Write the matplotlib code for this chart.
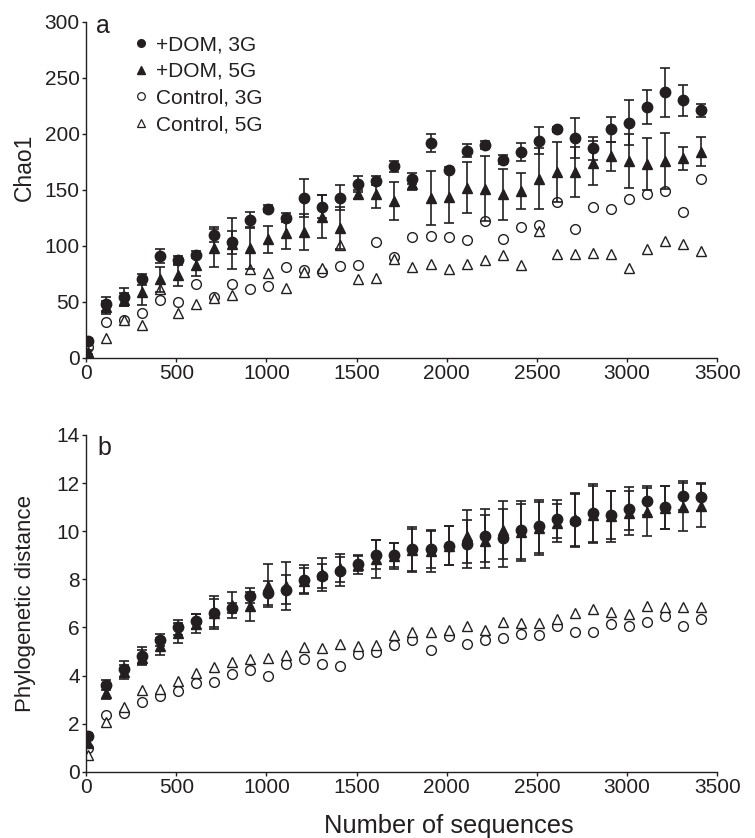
import matplotlib
matplotlib.use('Agg')
from matplotlib import pyplot as plt
from matplotlib.lines import Line2D

plt.rcParams['font.family'] = ['Liberation Sans', 'DejaVu Sans']

# sampling depth (number of sequences)
seqs = [10, 110, 210, 310, 410, 510, 610, 710, 810, 910, 1010, 1110, 1210, 1310,
        1410, 1510, 1610, 1710, 1810, 1910, 2010, 2110, 2210, 2310, 2410, 2510,
        2610, 2710, 2810, 2910, 3010, 3110, 3210, 3310, 3410]

# panel a: Chao1
chao_dom3 = [15, 48, 54, 70, 91, 87, 92, 110, 103, 123, 133, 125, 143, 135, 143, 155, 158, 171,
             160, 192, 168, 185, 190, 177, 184, 194, 204, 196, 187, 204, 210, 224, 237, 230, 221]
chao_dom3_err = [3, 6, 8, 5, 6, 4, 3, 7, 10, 7, 3, 4, 17, 10, 11, 7, 4, 5,
                 5, 8, 2, 6, 4, 4, 8, 12, 2, 18, 10, 11, 20, 15, 22, 14, 6]
chao_dom5 = [5, 45, 52, 59, 70, 74, 83, 98, 102, 98, 106, 111, 112, 126, 116, 146, 146, 140,
             155, 143, 144, 152, 151, 146, 149, 160, 166, 166, 174, 180, 176, 173, 176, 178, 184]
chao_dom5_err = [2, 6, 6, 12, 11, 10, 10, 17, 23, 19, 12, 14, 16, 19, 19, 4, 12, 17,
                 5, 24, 24, 23, 29, 23, 16, 27, 27, 22, 20, 13, 24, 23, 25, 10, 13]
chao_ctl3 = [10, 32, 34, 40, 52, 50, 66, 54, 66, 61, 64, 81, 78, 77, 82, 83, 103, 90,
             108, 109, 108, 105, 122, 106, 117, 119, 139, 115, 135, 133, 142, 146, 149, 130, 160]
chao_ctl5 = [4, 18, 34, 29, 61, 40, 48, 53, 56, 79, 76, 62, 77, 80, 101, 70, 71, 88,
             81, 84, 79, 84, 87, 92, 83, 113, 93, 93, 94, 93, 80, 97, 104, 102, 95]

# panel b: phylogenetic distance
pd_dom3 = [1.47, 3.62, 4.27, 4.82, 5.46, 6.0, 6.25, 6.62, 6.8, 7.32, 7.43, 7.57, 7.98, 8.12,
           8.33, 8.65, 9.02, 9.02, 9.26, 9.26, 9.4, 9.48, 9.81, 9.72, 10.06, 10.2, 10.5, 10.44,
           10.76, 10.69, 10.94, 11.27, 10.99, 11.48, 11.42]
pd_dom3_err = [0.15, 0.2, 0.35, 0.35, 0.25, 0.3, 0.3, 0.7, 0.2, 0.3, 0.5, 0.6, 0.6, 0.5,
               0.6, 0.3, 0.6, 0.5, 0.9, 0.8, 0.8, 1.0, 1.1, 1.2, 1.2, 1.1, 0.8, 1.1,
               1.2, 1.0, 0.9, 0.6, 0.9, 0.6, 0.6]
pd_dom5 = [1.19, 3.27, 4.15, 4.75, 5.21, 5.77, 6.15, 6.6, 6.94, 6.87, 7.73, 7.73, 7.95, 8.2,
           8.47, 8.6, 8.84, 8.97, 9.2, 9.16, 9.4, 9.78, 9.58, 10.06, 9.95, 10.13, 10.34, 10.5,
           10.69, 10.62, 10.76, 10.78, 10.97, 11.0, 11.06]
pd_dom5_err = [0.15, 0.25, 0.3, 0.3, 0.35, 0.4, 0.4, 0.6, 0.55, 0.6, 0.9, 1.0, 0.5, 0.7,
               0.6, 0.4, 0.8, 0.55, 0.9, 0.85, 0.8, 1.1, 1.1, 1.2, 1.2, 1.1, 0.8, 1.1,
               1.2, 1.05, 0.9, 1.0, 0.9, 1.0, 0.9]
pd_ctl3 = [0.98, 2.37, 2.45, 2.88, 3.13, 3.37, 3.69, 3.73, 4.06, 4.24, 3.99, 4.49, 4.69, 4.48,
           4.38, 4.89, 4.96, 5.28, 5.49, 5.07, 5.63, 5.31, 5.46, 5.56, 5.72, 5.7, 6.04, 5.79,
           5.83, 6.15, 6.04, 6.21, 6.46, 6.04, 6.36]
pd_ctl5 = [0.71, 2.05, 2.69, 3.38, 3.44, 3.78, 4.1, 4.34, 4.56, 4.69, 4.75, 4.86, 5.17, 5.14,
           5.31, 5.24, 5.26, 5.7, 5.79, 5.83, 5.9, 6.04, 5.9, 6.21, 6.18, 6.18, 6.36, 6.6,
           6.76, 6.64, 6.56, 6.87, 6.85, 6.83, 6.85]

labels = ['+DOM, 3G', '+DOM, 5G', 'Control, 3G', 'Control, 5G']

ink = '#231f20'
fig = plt.figure(figsize=(7.55, 8.38), dpi=100)
ax1 = fig.add_axes([0.114, 0.573, 0.836, 0.401])
ax2 = fig.add_axes([0.114, 0.079, 0.836, 0.402])


def draw(ax, dom3, dom3_err, dom5, dom5_err, ctl3, ctl5):
    ax.plot(seqs, ctl3, 'o', ms=7, mfc='white', mec=ink, mew=1.0, ls='none', zorder=2)
    ax.plot(seqs, ctl5, '^', ms=7, mfc='white', mec=ink, mew=1.0, ls='none', zorder=2)
    ax.errorbar(seqs, dom5, yerr=dom5_err, fmt='^', ms=7.5, color=ink, ecolor=ink,
                elinewidth=1.2, capsize=3.3, capthick=1.2, zorder=3)
    ax.errorbar(seqs, dom3, yerr=dom3_err, fmt='o', ms=7.5, color=ink, ecolor=ink,
                elinewidth=1.2, capsize=3.3, capthick=1.2, zorder=4)
    ax.set_xlim(0, 3500)
    ax.set_xticks(range(0, 3501, 500))
    for s in ['top', 'right']:
        ax.spines[s].set_visible(False)
    for s in ['left', 'bottom']:
        ax.spines[s].set_color(ink)
        ax.spines[s].set_linewidth(1.0)
    ax.tick_params(direction='out', length=3, width=1, colors=ink, labelsize=15, pad=1.5)


draw(ax1, chao_dom3, chao_dom3_err, chao_dom5, chao_dom5_err, chao_ctl3, chao_ctl5)
ax1.set_ylim(0, 300)
ax1.set_yticks(range(0, 301, 50))
ax1.set_ylabel('Chao1', fontsize=16.5, color=ink)
ax1.yaxis.set_label_coords(-0.079, 0.568)
ax1.text(0.016, 0.967, 'a', transform=ax1.transAxes, fontsize=18, color=ink, va='baseline')

# legend: markers only
handles = [
    Line2D([], [], ls='none', marker='o', ms=5.5, mfc=ink, mec=ink),
    Line2D([], [], ls='none', marker='^', ms=5.5, mfc=ink, mec=ink),
    Line2D([], [], ls='none', marker='o', ms=5.5, mfc='white', mec=ink, mew=0.9),
    Line2D([], [], ls='none', marker='^', ms=5.5, mfc='white', mec=ink, mew=0.9),
]
leg = ax1.legend(handles, labels, loc='upper left', bbox_to_anchor=(0.074, 0.960),
                 frameon=False, fontsize=15, handlelength=0.8, handletextpad=0.32,
                 labelspacing=0.37, borderpad=0, borderaxespad=0)
for t in leg.get_texts():
    t.set_color(ink)

draw(ax2, pd_dom3, pd_dom3_err, pd_dom5, pd_dom5_err, pd_ctl3, pd_ctl5)
ax2.set_ylim(0, 14)
ax2.set_yticks(range(0, 15, 2))
ax2.set_ylabel('Phylogenetic distance', fontsize=16, color=ink)
ax2.yaxis.set_label_coords(-0.079, 0.5)
ax2.set_xlabel('Number of sequences', fontsize=18.4, color=ink)
ax2.xaxis.set_label_coords(0.574, -0.124)
ax2.text(0.018, 0.941, 'b', transform=ax2.transAxes, fontsize=18, color=ink, va='baseline')

fig.savefig('out.png', dpi=100)
